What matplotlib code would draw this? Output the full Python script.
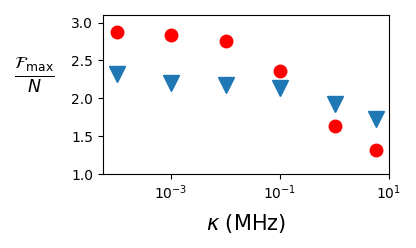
import matplotlib
matplotlib.use("Agg")
import matplotlib.pyplot as plt

# coupling rate kappa (MHz)
kappa = [1e-4, 1e-3, 1e-2, 1e-1, 1.0, 5.7]
# F_max / N for the two cases
f_red = [2.88, 2.84, 2.76, 2.36, 1.64, 1.32]
f_blue = [2.32, 2.20, 2.17, 2.13, 1.92, 1.73]

fig = plt.figure(figsize=(4.16, 2.48), dpi=100)
ax = fig.add_axes([103 / 416, 1 - 174 / 248, 286 / 416, 159 / 248])

ax.plot(kappa, f_red, 'o', color='red', markersize=9, linestyle='none')
ax.plot(kappa, f_blue, 'v', color='tab:blue', markersize=11, linestyle='none')

ax.set_xscale('log')
ax.set_xlim(10 ** -4.25, 10)
ax.set_ylim(1.0, 3.1)
ax.set_yticks([1.0, 1.5, 2.0, 2.5, 3.0])
ax.set_xticks([1e-3, 1e-1, 1e1])
ax.minorticks_off()
ax.tick_params(axis='both', labelsize=10)

ax.set_xlabel(r'$\kappa$ (MHz)', fontsize=15)
ax.xaxis.set_label_coords(0.5, -0.24)
ax.set_ylabel(r'$\frac{\mathcal{F}_{\max}}{N}$', fontsize=18, rotation=0,
              ha='center', va='center')
ax.yaxis.set_label_coords(-0.24, 0.62)

fig.savefig('out.png', dpi=100)
